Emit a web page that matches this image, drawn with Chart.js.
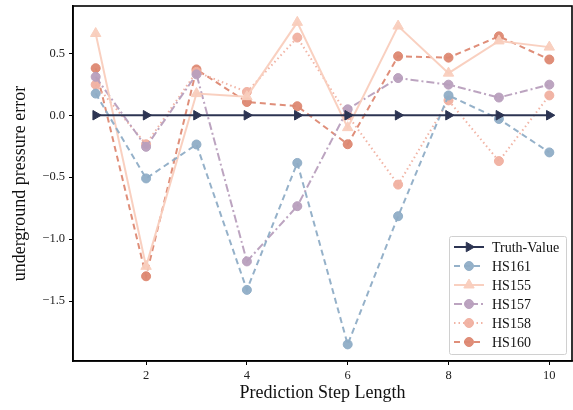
<!DOCTYPE html>
<html><head><meta charset="utf-8">
<script src="https://cdn.jsdelivr.net/npm/chart.js@4.4.1/dist/chart.umd.min.js"></script>
<style>html,body{margin:0;padding:0;background:#fff}#wrap{width:573px;height:410px}</style>
</head><body><div id="wrap"><canvas id="c" width="573" height="410"></canvas></div>
<script>
const steps = [1,2,3,4,5,6,7,8,9,10];
const truthValue = [0,0,0,0,0,0,0,0,0,0];
const hs161 = [0.175,-0.51,-0.236,-1.41,-0.385,-1.85,-0.815,0.16,-0.03,-0.30];
const hs155 = [0.66,-1.22,0.175,0.15,0.75,-0.10,0.72,0.34,0.60,0.55];
const hs157 = [0.31,-0.255,0.33,-1.18,-0.734,0.048,0.30,0.247,0.143,0.247];
const hs158 = [0.247,-0.234,0.35,0.188,0.627,0.0,-0.56,0.12,-0.37,0.16];
const hs160 = [0.38,-1.30,0.37,0.107,0.073,-0.234,0.476,0.465,0.637,0.45];
const xTicks = [2,4,6,8,10];
const yTicks = [-1.5,-1.0,-0.5,0.0,0.5];

const pts = arr => arr.map((v,i)=>({x:steps[i], y:v}));
const FONT = "'Liberation Serif', 'Times New Roman', serif";

function ds(label, data, color, dash, style, radius, rot){
  return {label, data: pts(data), borderColor: color, backgroundColor: color,
    borderWidth: 2, borderDash: dash, pointStyle: style, pointRadius: radius,
    pointRotation: rot||0, pointBackgroundColor: color, pointBorderColor: color,
    pointBorderWidth: 1, tension: 0, fill: false};
}
const datasets = [
  ds('Truth-Value', truthValue, '#2c3452', [], 'triangle', 5.5, 90),
  ds('HS161', hs161, 'rgba(143,173,198,0.95)', [6,4], 'circle', 4.5),
  ds('HS155', hs155, 'rgba(249,205,189,0.95)', [], 'triangle', 6),
  ds('HS157', hs157, 'rgba(184,159,189,0.95)', [8,3,2,3], 'circle', 4.5),
  ds('HS158', hs158, 'rgba(240,176,160,0.95)', [1.5,3], 'circle', 4.5),
  ds('HS160', hs160, 'rgba(221,136,114,0.95)', [6,4], 'circle', 4.5),
];

const framePlugin = {
  id:'frame',
  afterDatasetsDraw(chart){
    const {ctx, chartArea:a} = chart;
    ctx.save();
    ctx.strokeStyle='#000'; ctx.lineWidth=1.6;
    ctx.strokeRect(a.left, a.top, a.right-a.left, a.bottom-a.top);
    ctx.restore();
  },
  afterDraw(chart){
    const ctx = chart.ctx;
    const bx=449, by=236, bw=117, bh=118;
    ctx.save();
    ctx.fillStyle='rgba(255,255,255,0.85)';
    ctx.strokeStyle='#d0d0d0'; ctx.lineWidth=1;
    ctx.beginPath();
    if (ctx.roundRect) ctx.roundRect(bx+0.5,by+0.5,bw,bh,2); else ctx.rect(bx+0.5,by+0.5,bw,bh);
    ctx.fill(); ctx.stroke();
    chart.data.datasets.forEach((d,i)=>{
      const y = 247 + i*19;
      ctx.save();
      ctx.strokeStyle=d.borderColor; ctx.lineWidth=2;
      ctx.setLineDash(d.borderDash||[]);
      ctx.beginPath(); ctx.moveTo(454,y); ctx.lineTo(484,y); ctx.stroke();
      ctx.setLineDash([]);
      ctx.fillStyle=d.pointBackgroundColor; ctx.strokeStyle=d.pointBorderColor; ctx.lineWidth=1;
      Chart.helpers.drawPoint(ctx,{pointStyle:d.pointStyle, radius:d.pointRadius, rotation:d.pointRotation, borderWidth:1}, 469, y);
      ctx.restore();
      ctx.fillStyle='#111'; ctx.font='14px '+FONT; ctx.textBaseline='middle'; ctx.textAlign='left';
      ctx.fillText(d.label, 492, y+1);
    });
    ctx.restore();
  }
};

new Chart(document.getElementById('c'), {
  type:'line',
  data:{datasets},
  options:{
    responsive:false, animation:false, devicePixelRatio:1,
    layout:{autoPadding:false, padding:{left:0, top:6, right:1, bottom:0}},
    plugins:{legend:{display:false}, tooltip:{enabled:false}},
    scales:{
      x:{type:'linear', min:0.55, max:10.45,
        afterBuildTicks(s){ s.ticks = xTicks.map(v=>({value:v})); },
        afterFit(s){ s.height = 49; s.paddingLeft = 0; s.paddingRight = 0; },
        grid:{drawOnChartArea:false, drawTicks:true, tickLength:4, color:'#000', lineWidth:1},
        border:{display:true, color:'#000', width:1.6},
        ticks:{color:'#222', font:{family:FONT, size:12.5}, padding:3, maxRotation:0, callback:v=>String(v)},
        title:{display:true, text:'Prediction Step Length', color:'#111', font:{family:FONT, size:18}, padding:{top:0,bottom:6}}
      },
      y:{type:'linear', min:-1.984, max:0.882,
        afterBuildTicks(s){ s.ticks = yTicks.map(v=>({value:v})); },
        afterFit(s){ s.width = 73; s.paddingTop = 0; s.paddingBottom = 0; },
        grid:{drawOnChartArea:false, drawTicks:true, tickLength:4, color:'#000', lineWidth:1},
        border:{display:true, color:'#000', width:1.6},
        ticks:{color:'#222', font:{family:FONT, size:12.5}, padding:4,
          callback:v=>(v<0?'\u2212':'')+Math.abs(v).toFixed(1)},
        title:{display:true, text:'underground pressure error', color:'#111', font:{family:FONT, size:18}, padding:{top:9,bottom:4}}
      }
    }
  },
  plugins:[framePlugin]
});
</script></body></html>
